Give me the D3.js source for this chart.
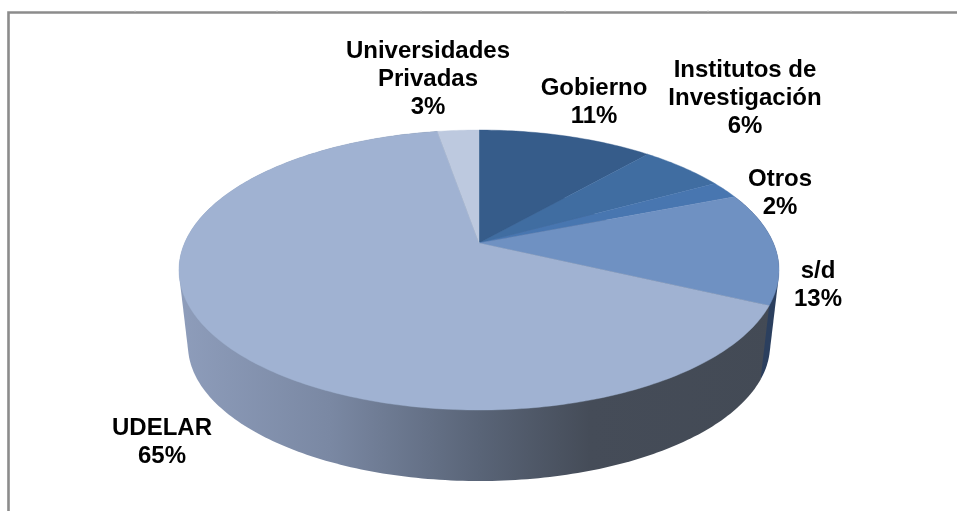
<!DOCTYPE html>
<html>
<head>
<meta charset="utf-8">
<script src="https://cdn.jsdelivr.net/npm/d3@7"></script>
<style>
  body { margin: 0; background: #fff; }
  svg { display: block; }
  text { font-family: "Liberation Sans", Arial, sans-serif; font-weight: bold; font-size: 24px; fill: #000; text-anchor: middle; filter: blur(0.35px); }
</style>
</head>
<body>
<svg width="957" height="511"></svg>
<script>
var categories = ["Gobierno", "Institutos de\nInvestigación", "Otros", "s/d", "UDELAR", "Universidades\nPrivadas"];
var shares = [11.4, 5.6, 2, 13, 65.3, 2.7];
var topColors = ["#365c8a", "#406da1", "#4876b0", "#6f91c2", "#a0b2d2", "#bdc9df"];

// where each label sits, same order as categories
var labelAt = [[594, 95], [745, 77], [780, 186], [818, 278], [162, 435], [428, 58]];

// side wall shading, left to right
var wallStops = [[178, "#8e9dbb"], [330, "#7a88a3"], [480, "#596477"], [590, "#454c58"], [780, "#434a55"]];
var frameTicks = [135, 277, 421, 565, 708, 851];

var svg = d3.select("svg");

// the disc is seen in perspective: apex sits above the middle of the ellipse
var apex = {x: 479, y: 243},
  spreadX = 294.4, spreadY = 134.8, persp = 0.193,
  depth = 76, shrink = 0.97;

function rim(angle, low) {
  var u = Math.sin(angle), v = Math.cos(angle), w = 1 + persp * v;
  var s = low ? shrink : 1;
  return [
    apex.x + s * spreadX * u / w,
    apex.y + (low ? depth : 0) - s * spreadY * v / w
  ];
}

function arcPoints(a0, a1, low) {
  var n = Math.max(2, Math.ceil((a1 - a0) * 60));
  return d3.range(n + 1).map(function(i) { return rim(a0 + (a1 - a0) * i / n, low); });
}

var pie = d3.pie().sort(null);
var slices = pie(shares);
var line = d3.line();

var defs = svg.append("defs");
var grad = defs.append("linearGradient")
  .attr("id", "wall")
  .attr("gradientUnits", "userSpaceOnUse")
  .attr("x1", 178).attr("x2", 780).attr("y1", 0).attr("y2", 0);
grad.selectAll("stop")
  .data(wallStops)
  .enter().append("stop")
  .attr("offset", function(d) { return (d[0] - 178) / (780 - 178); })
  .attr("stop-color", function(d) { return d[1]; });

// chart frame, only top and left stay in the crop
svg.append("path")
  .attr("d", "M8.5,511V12.5H957")
  .attr("fill", "none")
  .attr("stroke", "#8c8c8c")
  .attr("stroke-width", 2.6);

svg.append("g").selectAll("line")
  .data(frameTicks)
  .enter().append("line")
  .attr("x1", function(d) { return d; })
  .attr("x2", function(d) { return d; })
  .attr("y1", 10.5).attr("y2", 12)
  .attr("stroke", "#c4c4c4");

// side wall: hull of each slice rim with the lower rim of its front part
var frontStart = Math.PI / 2, frontEnd = 3 * Math.PI / 2;
var wall = svg.append("g");
slices.forEach(function(d) {
  var a0 = Math.max(d.startAngle, frontStart), a1 = Math.min(d.endAngle, frontEnd);
  if (a1 <= a0) return;
  var pts = arcPoints(d.startAngle, d.endAngle, false).concat(arcPoints(a0, a1, true));
  wall.append("path")
    .attr("d", line(d3.polygonHull(pts)) + "Z")
    .attr("fill", d.index === 3 ? "#2b3f5e" : "url(#wall)");
});

// top face
svg.append("g").selectAll("path")
  .data(slices)
  .enter().append("path")
  .attr("d", function(d) {
    return line([[apex.x, apex.y]].concat(arcPoints(d.startAngle, d.endAngle, false))) + "Z";
  })
  .attr("fill", function(d) { return topColors[d.index]; })
  .attr("stroke", function(d) { return topColors[d.index]; })
  .attr("stroke-width", 0.4);

// labels
var labels = svg.append("g").selectAll("text")
  .data(slices)
  .enter().append("text")
  .attr("x", function(d) { return labelAt[d.index][0]; })
  .attr("y", function(d) { return labelAt[d.index][1]; });

labels.each(function(d) {
  var rows = categories[d.index].split("\n").concat(Math.round(d.data) + "%");
  d3.select(this).selectAll("tspan")
    .data(rows)
    .enter().append("tspan")
    .attr("x", labelAt[d.index][0])
    .attr("dy", function(r, i) { return i ? 28 : 0; })
    .text(function(r) { return r; });
});
</script>
</body>
</html>
